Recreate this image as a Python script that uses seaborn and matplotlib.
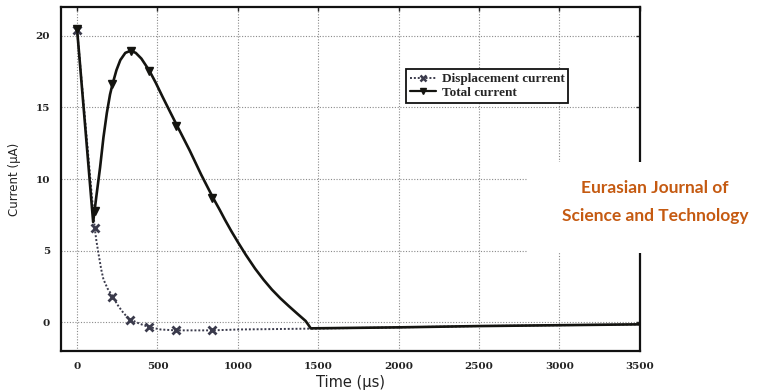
import matplotlib
matplotlib.use("Agg")
import matplotlib.pyplot as plt
from matplotlib.lines import Line2D
from matplotlib.patches import Rectangle
import seaborn as sns
import pandas as pd

# Displacement current: sampled curve and marked points (time in µs, current in µA)
disp_time = [0, 110, 120, 132, 150, 164, 190, 220, 250, 279, 305, 331, 390, 447, 520, 614,
             840, 1000, 1450, 2000, 2500, 3000, 3500]
disp_current = [20.4, 6.55, 5.7, 4.87, 3.7, 3.0, 2.35, 1.84, 1.25, 0.79, 0.45, 0.2, -0.1, -0.33, -0.5, -0.56,
                -0.56, -0.5, -0.44, -0.35, -0.26, -0.2, -0.14]
disp_mark_time = [0, 110, 220, 331, 450, 618, 840]
disp_mark_current = [20.4, 6.55, 1.8, 0.18, -0.35, -0.56, -0.56]

# Total current: sampled curve and marked points
total_time = [0, 100, 120, 143, 164, 185, 205, 220, 245, 269, 300, 333, 365, 400, 450, 490,
              531, 580, 625, 700, 772, 845, 887, 920, 960, 1000, 1050, 1107, 1160, 1212,
              1265, 1317, 1370, 1421, 1440, 1453, 2000, 2500, 3000, 3500]
total_current = [20.45, 7.0, 8.8, 10.8, 12.9, 14.6, 15.9, 16.6, 17.6, 18.3, 18.8, 18.95, 18.8, 18.4, 17.55, 16.7,
                 15.75, 14.65, 13.65, 12.0, 10.3, 8.7, 7.85, 7.15, 6.35, 5.6, 4.7, 3.75, 2.97, 2.28,
                 1.67, 1.13, 0.6, 0.1, -0.2, -0.42, -0.35, -0.26, -0.2, -0.14]
total_mark_time = [0, 112, 220, 333, 450, 617, 840]
total_mark_current = [20.45, 7.75, 16.6, 18.95, 17.55, 13.7, 8.65]

x_ticks = [0, 500, 1000, 1500, 2000, 2500, 3000, 3500]
y_ticks = [0, 5, 10, 15, 20]

sns.set_style("white")
plt.rcParams["font.family"] = ["DejaVu Sans"]

disp_color = "#3b3b4c"
total_color = "#141410"

fig = plt.figure(figsize=(7.77, 3.90), dpi=100)
ax = fig.add_axes([0.0785, 0.10, 0.745, 0.882])

disp_df = pd.DataFrame({"t": disp_time, "i": disp_current})
total_df = pd.DataFrame({"t": total_time, "i": total_current})

sns.lineplot(data=disp_df, x="t", y="i", ax=ax, color=disp_color, lw=1.4,
             linestyle=(0, (1, 1)), sort=False, zorder=3)
sns.lineplot(data=total_df, x="t", y="i", ax=ax, color=total_color, lw=1.9,
             sort=False, zorder=4)
for ln in ax.get_lines():
    ln.set_solid_joinstyle("round")
    ln.set_solid_capstyle("round")

ax.plot(disp_mark_time, disp_mark_current, linestyle="none", marker="x", ms=5.5,
        mew=2.0, color=disp_color, zorder=5)
ax.plot(total_mark_time, total_mark_current, linestyle="none", marker="v", ms=6,
        color=total_color, zorder=6)

ax.set_xlim(-100, 3500)
ax.set_ylim(-2, 22)
ax.set_xticks(x_ticks)
ax.set_yticks(y_ticks)
ax.grid(True, color="#8a8a8a", linestyle=(0, (1, 1.5)), lw=0.8)
ax.tick_params(direction="in", length=3, width=1, top=True, right=True, pad=8)
for lab in ax.get_xticklabels() + ax.get_yticklabels():
    lab.set_fontfamily("DejaVu Serif")
    lab.set_fontweight("bold")
    lab.set_fontsize(7.5)
    lab.set_color("#222222")
for sp in ax.spines.values():
    sp.set_color("#111111")
    sp.set_linewidth(1.6)

ax.set_xlabel("Time (µs)", fontsize=10.5, color="#222222", labelpad=3)
ax.set_ylabel("Current (µA)", fontsize=8.5, color="#222222", labelpad=10)

handles = [
    Line2D([], [], color=disp_color, lw=1.4, linestyle=(0, (1, 1)), marker="x", ms=4.5, mew=1.8),
    Line2D([], [], color=total_color, lw=1.6, marker="v", ms=5),
]
leg = ax.legend(handles, ["Displacement current", "Total current"],
                loc="upper left", bbox_to_anchor=(0.514, 0.84), bbox_transform=fig.transFigure,
                frameon=True, fancybox=False, edgecolor="#111111", framealpha=1,
                handlelength=2.0, handletextpad=0.4, borderpad=0.3, labelspacing=0.1,
                prop={"family": "Liberation Serif", "weight": "bold", "size": 9.5})
leg.get_frame().set_linewidth(1.3)

# journal imprint on a white panel
fig.patches.append(Rectangle((0.678, 0.351), 0.322, 0.233, transform=fig.transFigure,
                             facecolor="white", edgecolor="none", zorder=10))
fig.text(0.843, 0.518, "Eurasian Journal of", ha="center", va="center", color="#c55a11",
         fontsize=12.5, fontweight="bold", family="Lato", zorder=11)
fig.text(0.843, 0.446, "Science and Technology", ha="center", va="center", color="#c55a11",
         fontsize=12.5, fontweight="bold", family="Lato", zorder=11)

fig.savefig("out.png", dpi=100)
